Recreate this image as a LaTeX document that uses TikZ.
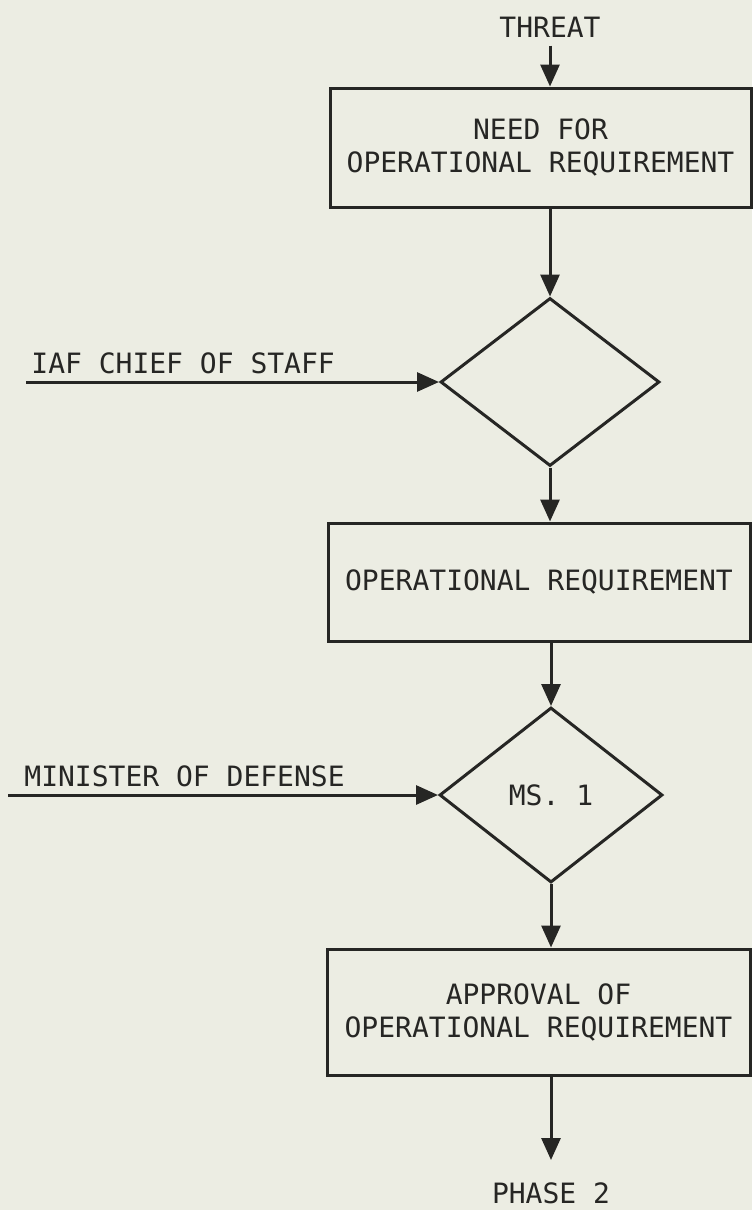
\documentclass[tikz,border=0pt]{standalone}
\usepackage{fontspec}
\setmonofont{DejaVu Sans Mono}
\usetikzlibrary{shapes.geometric,arrows.meta}
\definecolor{paper}{RGB}{236,237,227}
\definecolor{ink}{RGB}{38,38,36}
\begin{document}
\begin{tikzpicture}[x=0.5pt,y=-0.5pt,
  font=\ttfamily\fontsize{14}{16.5}\selectfont,
  box/.style={draw=ink, line width=1.5pt, rectangle, align=center, inner sep=0pt, text=ink},
  dia/.style={draw=ink, line width=1.5pt, diamond, inner sep=0pt, text=ink},
  lbl/.style={text=ink, inner sep=0pt},
  arr/.style={draw=ink, line width=1.5pt, -{Triangle[length=11pt,width=9.5pt]}}]
\fill[paper] (0,0) rectangle (752,1210);
\useasboundingbox (0,0) rectangle (752,1210);

\node[lbl] (threat) at (550,27) {THREAT};
\node[box, minimum width=210.5pt, minimum height=59.5pt] (b1) at (540.5,147.5) {NEED FOR\\OPERATIONAL REQUIREMENT};
\node[dia, minimum width=109.5pt, minimum height=84pt] (d1) at (550,382) {};
\node[box, minimum width=211pt, minimum height=59pt] (b2) at (539,582) {OPERATIONAL REQUIREMENT};
\node[dia, minimum width=111.5pt, minimum height=87.5pt] (d2) at (551,795) {MS. 1};
\node[box, minimum width=211.5pt, minimum height=63pt] (b3) at (538.5,1012) {APPROVAL OF\\OPERATIONAL REQUIREMENT};
\node[lbl] (phase) at (551,1193) {PHASE 2};

\node[lbl, anchor=base west] (iaf) at (31,373) {IAF CHIEF OF STAFF};
\coordinate (iafs) at (26,382);
\node[lbl, anchor=base west] (mod) at (24,786) {MINISTER OF DEFENSE};
\coordinate (mods) at (8,795);

\draw[arr] ([yshift=-4pt]threat.south) -- (b1.north -| threat);
\draw[arr] (b1.south -| d1) -- (d1.north);
\draw[arr] (iafs) -- (d1.west);
\draw[arr] (d1.south) -- (b2.north -| d1);
\draw[arr] (b2.south -| d2) -- (d2.north);
\draw[arr] (mods) -- (d2.west);
\draw[arr] (d2.south) -- (b3.north -| d2);
\draw[arr, shorten >=11pt] (b3.south -| phase) -- (phase.north);
\end{tikzpicture}
\end{document}
